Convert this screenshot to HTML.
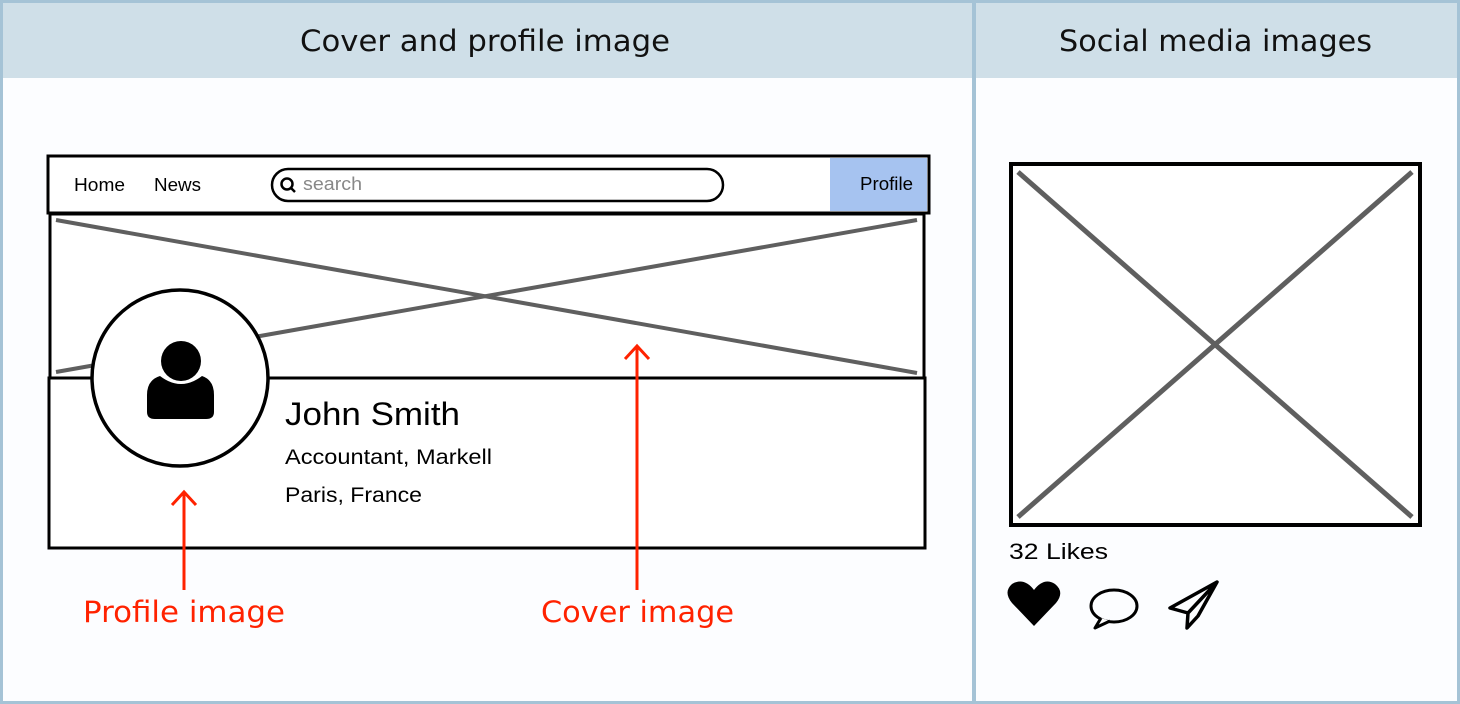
<!DOCTYPE html>
<html><head><meta charset="utf-8"><style>
html,body{margin:0;padding:0;background:#fcfdff;}
svg{display:block}
text{font-family:"DejaVu Sans","Liberation Sans",sans-serif;}
text.l{font-family:"Liberation Sans",sans-serif;}
</style></head><body>
<svg width="1460" height="704" viewBox="0 0 1460 704" xmlns="http://www.w3.org/2000/svg">
<rect x="0" y="0" width="1460" height="704" fill="#fcfdff"/>
<rect x="2" y="2" width="1456" height="76" fill="#cfdfe8"/>
<rect x="1.5" y="1.5" width="1457" height="701" fill="none" stroke="#a5c3d6" stroke-width="3"/>
<line x1="974" y1="0" x2="974" y2="704" stroke="#a5c3d6" stroke-width="4"/>
<text x="300" y="51" font-size="29" textLength="370" lengthAdjust="spacingAndGlyphs" fill="#111">Cover and profile image</text>
<text x="1059" y="51" font-size="29" textLength="313" lengthAdjust="spacingAndGlyphs" fill="#111">Social media images</text>

<!-- nav bar -->
<rect x="48" y="156" width="881" height="57" fill="#fff" stroke="#000" stroke-width="3"/>
<rect x="830" y="158" width="97" height="53" fill="#a6c3f0"/>
<text class="l" x="74" y="191" font-size="18" textLength="51" lengthAdjust="spacingAndGlyphs" fill="#000">Home</text>
<text class="l" x="154" y="191" font-size="18" textLength="47" lengthAdjust="spacingAndGlyphs" fill="#000">News</text>
<text class="l" x="860" y="190" font-size="18" textLength="53" lengthAdjust="spacingAndGlyphs" fill="#000">Profile</text>
<rect x="272" y="169" width="451" height="32" rx="16" fill="#fff" stroke="#000" stroke-width="2.5"/>
<circle cx="287" cy="184" r="5.5" fill="none" stroke="#000" stroke-width="2.5"/>
<line x1="291" y1="188" x2="295" y2="192" stroke="#000" stroke-width="2.5"/>
<text class="l" x="303" y="190" font-size="18" textLength="59" lengthAdjust="spacingAndGlyphs" fill="#888">search</text>

<!-- cover -->
<rect x="50" y="214" width="874" height="164" fill="#fff" stroke="#000" stroke-width="3"/>
<line x1="56" y1="220" x2="917" y2="373" stroke="#5f5f5f" stroke-width="4"/>
<line x1="56" y1="372" x2="917" y2="220" stroke="#5f5f5f" stroke-width="4"/>
<rect x="49" y="378" width="876" height="170" fill="#fff" stroke="#000" stroke-width="3"/>

<!-- profile circle -->
<circle cx="180" cy="378" r="88" fill="#fff" stroke="#000" stroke-width="3.5"/>
<circle cx="181" cy="361" r="20" fill="#000"/>
<path d="M160 376 Q181 392 202 376 Q214 380 214 395 L214 412 Q214 419 206 419 L155 419 Q147 419 147 412 L147 395 Q147 380 160 376 Z" fill="#000"/>

<text class="l" x="285" y="425" font-size="32" textLength="175" lengthAdjust="spacingAndGlyphs" fill="#000">John Smith</text>
<text class="l" x="285" y="464" font-size="21" textLength="207" lengthAdjust="spacingAndGlyphs" fill="#000">Accountant, Markell</text>
<text class="l" x="285" y="502" font-size="21" textLength="137" lengthAdjust="spacingAndGlyphs" fill="#000">Paris, France</text>

<!-- arrows -->
<line x1="184" y1="492" x2="184" y2="590" stroke="#f20" stroke-width="3"/>
<polyline points="172,505 184,492 196,505" fill="none" stroke="#f20" stroke-width="3"/>
<line x1="637" y1="346" x2="637" y2="590" stroke="#f20" stroke-width="3"/>
<polyline points="625,359 637,346 649,359" fill="none" stroke="#f20" stroke-width="3"/>
<text x="83" y="622" font-size="29" textLength="202" lengthAdjust="spacingAndGlyphs" fill="#f20">Profile image</text>
<text x="541" y="622" font-size="29" textLength="193" lengthAdjust="spacingAndGlyphs" fill="#f20">Cover image</text>

<!-- social image -->
<rect x="1011" y="164" width="409" height="361" fill="#fff" stroke="#000" stroke-width="4"/>
<line x1="1018" y1="172" x2="1412" y2="517" stroke="#5f5f5f" stroke-width="5"/>
<line x1="1018" y1="517" x2="1412" y2="172" stroke="#5f5f5f" stroke-width="5"/>
<text class="l" x="1009" y="559" font-size="22" textLength="99" lengthAdjust="spacingAndGlyphs" fill="#000">32 Likes</text>
<path d="M1034 626 L1012 603 Q1003 592 1012 584 Q1024 577 1034 590 Q1044 577 1055 584 Q1065 592 1056 603 Z" fill="#000"/>
<ellipse cx="1114" cy="606" rx="23" ry="16" fill="none" stroke="#000" stroke-width="3"/>
<path d="M1101 618 L1095 628 L1110 621" fill="#fff" stroke="#000" stroke-width="3" stroke-linejoin="round"/>
<path d="M1217 582 L1170 608 L1188 613 L1187 628 L1198 616 L1217 582 Z M1188 613 L1217 582" fill="none" stroke="#000" stroke-width="3.5" stroke-linejoin="round"/>
</svg>
</body></html>
